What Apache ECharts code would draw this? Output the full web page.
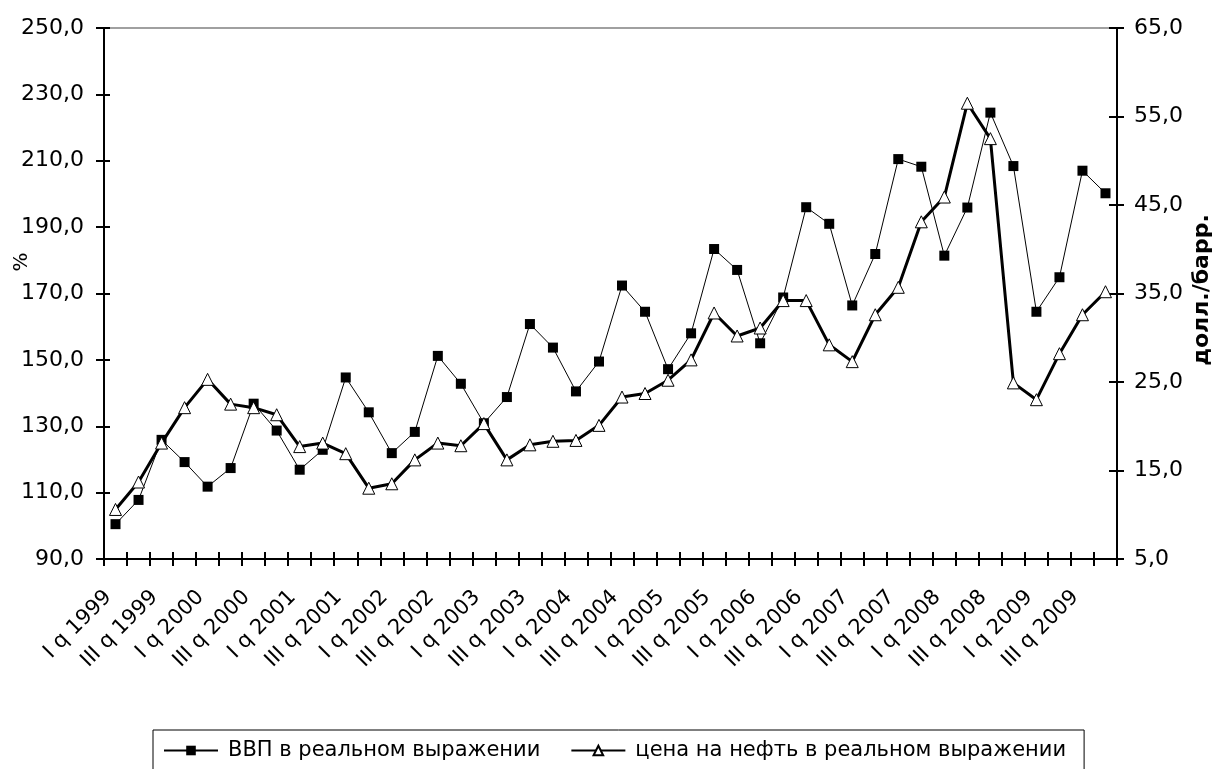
<!DOCTYPE html>
<html>
<head>
<meta charset="utf-8">
<script src="https://cdn.jsdelivr.net/npm/echarts@6/dist/echarts.min.js"></script>
<style>
  html, body { margin: 0; padding: 0; background: #fff; }
  #chart { width: 1218px; height: 769px; }
</style>
</head>
<body>
<div id="chart"></div>
<script>
const years = [1999, 2000, 2001, 2002, 2003, 2004, 2005, 2006, 2007, 2008, 2009];
const quarters = ['I', 'II', 'III', 'IV'];
const categories = [];
years.forEach(y => quarters.forEach(q => categories.push(q + ' q ' + y)));

const gdpName = 'ВВП в реальном выражении';
const oilName = 'цена на нефть в реальном выражении';

const gdp = [100.5, 107.8, 125.9, 119.2, 111.8, 117.4, 136.8, 128.7, 116.9, 122.9, 144.7, 134.2,
             121.9, 128.3, 151.2, 142.8, 130.9, 138.8, 160.8, 153.7, 140.5, 149.5, 172.4, 164.5,
             147.2, 158.0, 183.4, 177.1, 155.0, 168.8, 196.0, 191.0, 166.4, 181.9, 210.5, 208.2,
             181.4, 195.9, 224.5, 208.4, 164.5, 174.9, 207.0, 200.2];
const oil = [10.6, 13.7, 18.1, 22.1, 25.3, 22.5, 22.1, 21.3, 17.7, 18.1, 16.9, 13.0,
             13.5, 16.2, 18.1, 17.8, 20.3, 16.2, 17.9, 18.3, 18.4, 20.1, 23.3, 23.7,
             25.2, 27.5, 32.8, 30.2, 31.1, 34.2, 34.2, 29.2, 27.3, 32.6, 35.7, 43.1,
             45.9, 56.5, 52.5, 24.9, 23.0, 28.2, 32.6, 35.2];

const leftTicks = [90, 110, 130, 150, 170, 190, 210, 230, 250];
const rightTicks = [5, 15, 25, 35, 45, 55, 65];
const leftTitle = '%';
const rightTitle = 'долл./барр.';

const FONT = 'DejaVu Sans';
const fmt = v => v.toFixed(1).replace('.', ',');

const chart = echarts.init(document.getElementById('chart'), null, { renderer: 'canvas' });

function yAx(pos, ticks, min, max, outside, len, showLabel, showLine, margin) {
  return {
    type: 'value', gridIndex: 0, position: pos, min: min, max: max,
    axisLine: { show: showLine, onZero: false, lineStyle: { color: '#000', width: 2 } },
    axisTick: { show: true, inside: !outside, length: len, customValues: ticks,
                lineStyle: { color: '#000', width: 2 } },
    axisLabel: { show: showLabel, customValues: ticks, formatter: fmt, margin: margin,
                 color: '#000', fontFamily: FONT, fontSize: 22 },
    splitLine: { show: false }
  };
}

chart.setOption({
  animation: false,
  backgroundColor: '#fff',
  grid: {
    left: 104, right: 101, top: 28, bottom: 210,
    show: true, borderColor: '#a0a0a0', borderWidth: 2, backgroundColor: 'transparent',
    outerBoundsMode: 'none'
  },
  xAxis: [
    {
      type: 'category', data: categories, boundaryGap: true,
      axisLine: { onZero: false, lineStyle: { color: '#000', width: 2 } },
      axisTick: { show: true, interval: 0, length: 7, lineStyle: { color: '#000', width: 2 } },
      axisLabel: { interval: 1, rotate: 45, margin: 28, padding: [0, 10, 0, 0],
                   color: '#000', fontFamily: FONT, fontSize: 21 },
      splitLine: { show: false }
    },
    {
      type: 'category', data: categories, boundaryGap: true, position: 'bottom',
      axisLine: { show: false, onZero: false },
      axisTick: { show: true, inside: true, interval: 0, length: 7, lineStyle: { color: '#000', width: 2 } },
      axisLabel: { show: false },
      splitLine: { show: false }
    }
  ],
  yAxis: [
    yAx('left', leftTicks, 90, 250, true, 8, true, true, 20),
    yAx('right', rightTicks, 5, 65, true, 7, true, true, 17),
    yAx('left', leftTicks, 90, 250, false, 6, false, false, 8),
    yAx('right', rightTicks, 5, 65, false, 8, false, false, 8)
  ],
  legend: {
    left: 153, top: 730,
    data: [gdpName, oilName],
    borderColor: '#000', borderWidth: 1,
    padding: [10, 18, 10, 10],
    itemWidth: 54, itemHeight: 12, itemGap: 30,
    textStyle: { color: '#000', fontFamily: FONT, fontSize: 21, padding: [0, 0, 0, 5] }
  },
  graphic: [
    { type: 'text', x: 22, y: 262, rotation: Math.PI / 2,
      style: { text: leftTitle, fill: '#000', font: '20px "DejaVu Sans"', align: 'center', verticalAlign: 'middle' } },
    { type: 'text', x: 1202, y: 290, rotation: Math.PI / 2,
      style: { text: rightTitle, fill: '#000', font: 'bold 22px "DejaVu Sans"', align: 'center', verticalAlign: 'middle' } }
  ],
  series: [
    {
      name: gdpName, type: 'line', xAxisIndex: 0, yAxisIndex: 0, data: gdp,
      symbol: 'rect', symbolSize: 10, showAllSymbol: true,
      lineStyle: { color: '#000', width: 1 },
      itemStyle: { color: '#000', borderColor: '#000', borderWidth: 0 },
      z: 2
    },
    {
      name: oilName, type: 'line', xAxisIndex: 0, yAxisIndex: 1, data: oil,
      symbol: 'triangle', symbolSize: 12, showAllSymbol: true,
      lineStyle: { color: '#000', width: 3 },
      itemStyle: { color: '#fff', borderColor: '#000', borderWidth: 1 },
      z: 3
    }
  ]
});
</script>
</body>
</html>
